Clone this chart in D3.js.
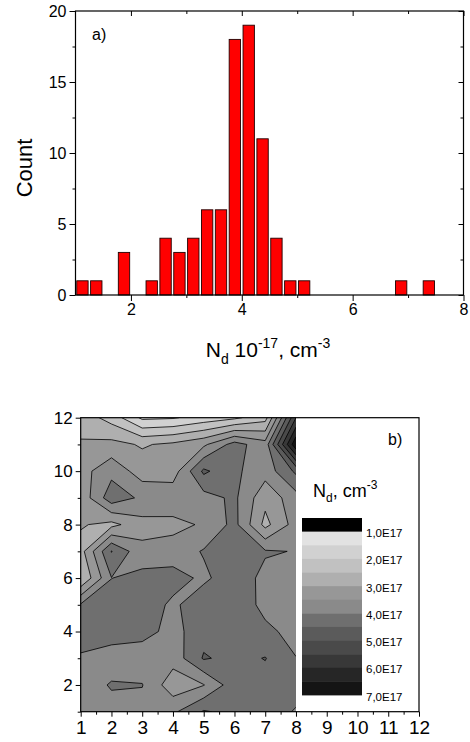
<!DOCTYPE html>
<html><head><meta charset="utf-8">
<script src="https://cdn.jsdelivr.net/npm/d3@7"></script>
<style>
body{margin:0;background:#fff}
text{font-family:Arial,"Liberation Sans",sans-serif;fill:#000}
</style></head>
<body><svg id="c" width="470" height="742"></svg>
<script>
// ---------- data: histogram (a) ----------
const histBinCenters = [1.125,1.375,1.875,2.375,2.625,2.875,3.125,3.375,3.625,3.875,4.125,4.375,4.625,4.875,5.125,6.875,7.375];
const histCounts     = [1,1,3,1,4,3,4,6,6,18,19,11,4,1,1,1,1];
const histXTicks = [2,4,6,8];
const histYTicks = [0,5,10,15,20];

// ---------- data: contour map (b), N_d in 1e17 cm^-3 ----------
const gridX = [1,2,3,4,5,6,7,8];
const gridY = [1,2,3,4,5,6,7,8,9,10,11,12];
const ndRowY1  = [3.75,3.8,3.8,3.9,4.55,4.35,4.3,3.95];
const ndRowY2  = [3.7,4.05,4.02,3.2,3.48,4.3,4.3,4.25];
const ndRowY3  = [3.95,3.7,3.67,3.7,4.55,4.35,4.52,4.01];
const ndRowY4  = [4.2,4.3,4.2,3.82,4.32,4.3,4.1,3.86];
const ndRowY5  = [4.05,4.3,4.3,3.9,4.33,4.3,3.87,3.8];
const ndRowY6  = [2.5,3.99,4.2,4.2,3.9,4.3,3.86,3.8];
const ndRowY7  = [2.8,4.52,3.62,3.73,4.04,4.3,4.05,3.98];
const ndRowY8  = [3.05,2.85,3.33,3.35,3.56,4.15,2.85,3.72];
const ndRowY9  = [3.15,4.3,3.9,3.85,3.8,4.1,3.15,3.8];
const ndRowY10 = [3.3,3.85,3.25,3.24,4.6,4.1,3.7,4.6];
const ndRowY11 = [3.05,3.15,2.95,3.1,3.4,4.2,3.7,6.9];
const ndRowY12 = [2.8,2.3,1.4,1.45,1.7,1.9,2.3,5.5];
const contourLevels = [1.0,1.5,2.0,2.5,3.0,3.5,4.0,4.5,5.0,5.5,6.0,6.5];
const levelColors   = ["#e2e2e2","#d1d1d1","#c1c1c1","#afafaf","#979797","#8a8a8a","#6f6f6f","#5b5b5b","#4a4a4a","#383838","#262626","#141414"];
const legendLabels  = ["1,0E17","2,0E17","3,0E17","4,0E17","5,0E17","6,0E17","7,0E17"];
const mapXTicks = [1,2,3,4,5,6,7,8,9,10,11,12];
const mapYTicks = [2,4,6,8,10,12];

const svg = d3.select("#c");

// ================= (a) histogram =================
const hx = d3.scaleLinear().domain([1,8]).range([75.5,463.5]);
const hy = d3.scaleLinear().domain([0,20]).range([295,11]);
const ga = svg.append("g");

const binW = 0.25, barFrac = 0.82;
ga.selectAll("rect.bar")
  .data(histBinCenters.map((c,i)=>({c:c,n:histCounts[i]})))
  .join("rect")
  .attr("x", d=>hx(d.c - binW*barFrac/2))
  .attr("width", d=>hx(d.c + binW*barFrac/2) - hx(d.c - binW*barFrac/2))
  .attr("y", d=>hy(d.n))
  .attr("height", d=>hy(0)-hy(d.n))
  .attr("fill","#ff0000").attr("stroke","#200000").attr("stroke-width",0.9);

function styleAxis(sel, fs){
  sel.select(".domain").remove();
  sel.selectAll(".tick line").attr("stroke","#000").attr("stroke-width",1);
  sel.selectAll(".tick text").attr("font-size",fs).attr("font-family","Arial, 'Liberation Sans', sans-serif").attr("fill","#000");
}
// bottom
ga.append("g").attr("transform","translate(0,295)")
  .call(d3.axisBottom(hx).tickValues(histXTicks).tickSize(6).tickPadding(3).tickFormat(d3.format("d")))
  .call(s=>styleAxis(s,16));
ga.append("g").attr("transform","translate(0,295)")
  .call(d3.axisBottom(hx).tickValues([3,5,7]).tickSize(3).tickFormat(""))
  .call(s=>styleAxis(s,16));
// top (inward)
ga.append("g").attr("transform","translate(0,11)")
  .call(d3.axisBottom(hx).tickValues(histXTicks).tickSize(5).tickFormat(""))
  .call(s=>styleAxis(s,16));
ga.append("g").attr("transform","translate(0,11)")
  .call(d3.axisBottom(hx).tickValues([3,5,7]).tickSize(3).tickFormat(""))
  .call(s=>styleAxis(s,16));
// left
ga.append("g").attr("transform","translate(75.5,0)")
  .call(d3.axisLeft(hy).tickValues(histYTicks).tickSize(6).tickPadding(3))
  .call(s=>styleAxis(s,16));
ga.append("g").attr("transform","translate(75.5,0)")
  .call(d3.axisLeft(hy).tickValues([2.5,7.5,12.5,17.5]).tickSize(3).tickFormat(""))
  .call(s=>styleAxis(s,16));
// right (inward)
ga.append("g").attr("transform","translate(463.5,0)")
  .call(d3.axisLeft(hy).tickValues(histYTicks).tickSize(5).tickFormat(""))
  .call(s=>styleAxis(s,16));
ga.append("g").attr("transform","translate(463.5,0)")
  .call(d3.axisLeft(hy).tickValues([2.5,7.5,12.5,17.5]).tickSize(3).tickFormat(""))
  .call(s=>styleAxis(s,16));
// frame
ga.append("rect").attr("x",hx(1)).attr("y",hy(20)).attr("width",hx(8)-hx(1)).attr("height",hy(0)-hy(20))
  .attr("fill","none").attr("stroke","#000").attr("stroke-width",1.2);

ga.append("text").attr("x",92).attr("y",40).attr("font-size",16).text("a)");
ga.append("text").attr("transform","translate(32,168) rotate(-90)").attr("text-anchor","middle")
  .attr("font-size",22).text("Count");
const xl = ga.append("text").attr("x",268).attr("y",357).attr("text-anchor","middle").attr("font-size",21);
xl.append("tspan").text("N");
xl.append("tspan").attr("font-size",14).attr("dy",7).text("d");
xl.append("tspan").attr("dy",-7).text(" 10");
xl.append("tspan").attr("font-size",14).attr("dy",-9).text("-17");
xl.append("tspan").attr("dy",9).text(", cm");
xl.append("tspan").attr("font-size",14).attr("dy",-9).text("-3");

// ================= (b) contour map =================
const cx = d3.scaleLinear().domain([1,12]).range([80.7,419]);
const cy = d3.scaleLinear().domain([1,12]).range([711.7,417.7]);
const gb = svg.append("g");

const rows = [ndRowY1,ndRowY2,ndRowY3,ndRowY4,ndRowY5,ndRowY6,ndRowY7,ndRowY8,ndRowY9,ndRowY10,ndRowY11,ndRowY12];
const nx = gridX.length, ny = gridY.length;
const values = [];
rows.forEach(r=>r.forEach(v=>values.push(v)));

const contours = d3.contours().size([nx,ny]).thresholds(contourLevels)(values);
// grid index i sits at contour coordinate i+0.5
const proj = d3.geoTransform({point:function(px,py){
  const gx = gridX[0] + (px-0.5)*(gridX[1]-gridX[0]);
  const gy = gridY[0] + (py-0.5)*(gridY[1]-gridY[0]);
  this.stream.point(cx(gx), cy(gy));
}});
const path = d3.geoPath(proj);

svg.append("defs").append("clipPath").attr("id","mapclip").append("rect")
  .attr("x",cx(gridX[0])).attr("y",cy(gridY[ny-1]))
  .attr("width",cx(gridX[nx-1])-cx(gridX[0])).attr("height",cy(gridY[0])-cy(gridY[ny-1]));

const cg = gb.append("g").attr("clip-path","url(#mapclip)");
cg.selectAll("path").data(contours).join("path")
  .attr("d",path)
  .attr("fill",(d,i)=>levelColors[i])
  .attr("stroke","#000").attr("stroke-width",0.8).attr("stroke-linejoin","round");

// axes
gb.append("g").attr("transform","translate(0,711.7)")
  .call(d3.axisBottom(cx).tickValues(mapXTicks).tickSize(5).tickPadding(4).tickFormat(d3.format("d")))
  .call(s=>styleAxis(s,19));
gb.append("g").attr("transform","translate(0,711.7)")
  .call(d3.axisBottom(cx).tickValues(mapXTicks.slice(0,-1).map(v=>v+0.5)).tickSize(3).tickFormat(""))
  .call(s=>styleAxis(s,19));
gb.append("g").attr("transform","translate(80.7,0)")
  .call(d3.axisLeft(cy).tickValues(mapYTicks).tickSize(5).tickPadding(3))
  .call(s=>styleAxis(s,17));
gb.append("g").attr("transform","translate(80.7,0)")
  .call(d3.axisLeft(cy).tickValues([1,3,5,7,9,11]).tickSize(3).tickFormat(""))
  .call(s=>styleAxis(s,17));
gb.append("rect").attr("x",cx(1)).attr("y",cy(12)).attr("width",cx(12)-cx(1)).attr("height",cy(1)-cy(12))
  .attr("fill","none").attr("stroke","#000").attr("stroke-width",1.2);

gb.append("text").attr("x",388).attr("y",445).attr("font-size",16).text("b)");

// legend
const lt = gb.append("text").attr("x",313).attr("y",497).attr("font-size",18);
lt.append("tspan").text("N");
lt.append("tspan").attr("font-size",12).attr("dy",5).text("d");
lt.append("tspan").attr("dy",-5).text(", cm");
lt.append("tspan").attr("font-size",12).attr("dy",-8).text("-3");

const legX = 302, legW = 60, legTop = 518, legBottom = 695;
const nBlocks = levelColors.length + 1;
const blockH = (legBottom-legTop)/nBlocks;
const legendColors = ["#000000"].concat(levelColors);
gb.selectAll("rect.leg").data(legendColors).join("rect")
  .attr("x",legX).attr("y",(d,i)=>legTop+i*blockH).attr("width",legW).attr("height",blockH+0.4)
  .attr("fill",d=>d);
gb.selectAll("text.legl").data(legendLabels).join("text")
  .attr("x",legX+legW+4).attr("y",(d,i)=>legTop+(1+2*i)*blockH+5.5)
  .attr("font-size",11.5).text(d=>d);
</script></body></html>
